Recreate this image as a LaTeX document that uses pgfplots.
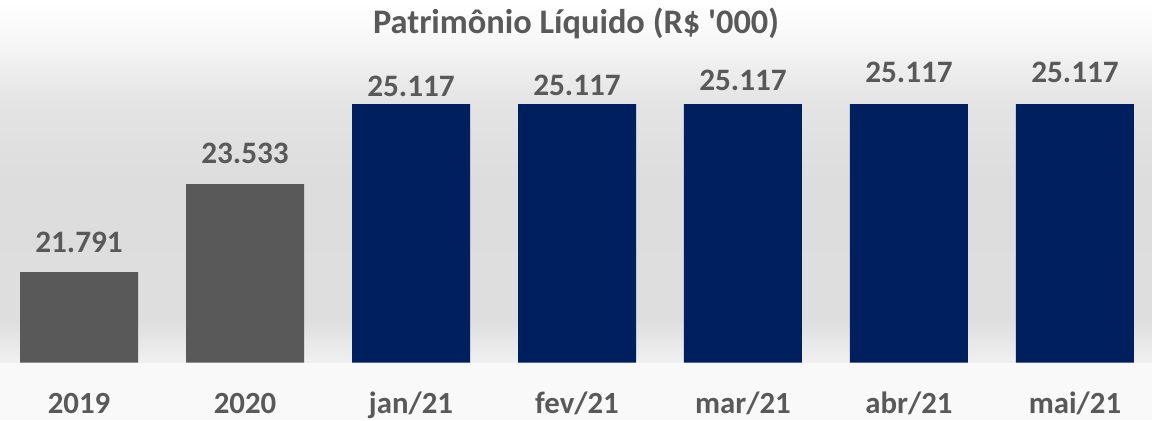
\documentclass[border=0pt]{standalone}
\usepackage{fontspec}
\setmainfont{Carlito}
\usepackage{pgfplots}
\pgfplotsset{compat=1.18}
\definecolor{txt}{HTML}{595959}
\definecolor{barg}{HTML}{595959}
\definecolor{navy}{HTML}{001F5F}
\definecolor{bgA}{HTML}{F0F0F0}
\definecolor{bgB}{HTML}{DEDEDE}
\definecolor{bgC}{HTML}{DDDDDD}
\definecolor{bgD}{HTML}{E4E4E4}
\definecolor{bgE}{HTML}{F0F0F0}
\definecolor{bgF}{HTML}{FAFAFA}
\definecolor{bgbottom}{HTML}{F9F9F9}
\pgfdeclareverticalshading{bgshade}{100bp}{color(0bp)=(bgA); color(25bp)=(bgA); color(31bp)=(bgB); color(50bp)=(bgC); color(61bp)=(bgD); color(66.5bp)=(bgE); color(71bp)=(bgF); color(75bp)=(white); color(100bp)=(white)}
\begin{document}
\begin{tikzpicture}
\path[use as bounding box, fill=bgbottom] (0,-28.75pt) rectangle (576pt,181.25pt);
\begin{axis}[
  at={(0,0)}, anchor=south west,
  scale only axis, width=576pt, height=181.25pt,
  xmin=-0.476, xmax=6.464, ymin=20000, ymax=27178,
  axis background/.style={shading=bgshade},
  axis line style={draw=none}, tick style={draw=none},
  ytick=\empty, xtick={0,...,6},
  xticklabels={2019,2020,jan/21,fev/21,mar/21,abr/21,mai/21},
  xticklabel style={anchor=base, yshift=-25.25pt, font=\fontsize{15.4}{18}\selectfont\bfseries, text=txt},
  bar width=59pt, bar shift=0pt,
  clip=true,
]
\addplot[ybar, bar shift=0pt, fill=barg, draw=none] coordinates {(0,21791) (1,23533)};
\addplot[ybar, bar shift=0pt, fill=navy, draw=none] coordinates {(2,25117) (3,25117) (4,25117) (5,25117) (6,25117)};
\addplot[draw=none, mark=none, nodes near coords, point meta=explicit symbolic,
  every node near coord/.append style={anchor=base, yshift=0pt, inner sep=0pt, font=\fontsize{15.6}{18}\selectfont\bfseries, text=txt}]
  coordinates {(0,22174) [21.791] (1,23931) [23.533] (2,25277) [25.117] (3,25297) [25.117] (4,25396) [25.117] (5,25535) [25.117] (6,25535) [25.117]};
\node[anchor=base, inner sep=0pt, font=\fontsize{17.2}{20}\selectfont\bfseries, text=txt] at (rel axis cs:0.5,0.909) {Patrimônio Líquido (R\$ \textquotesingle 000)};
\end{axis}
\end{tikzpicture}
\end{document}
